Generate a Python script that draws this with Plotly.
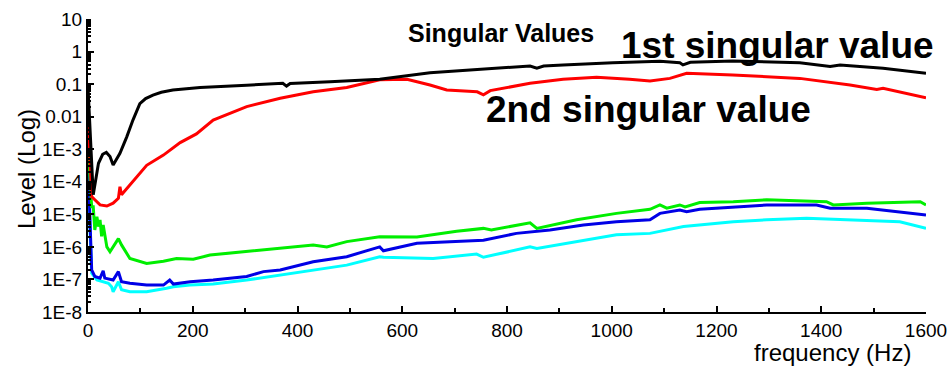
import plotly.graph_objects as go

# ---- data ----
f_first = [0, 3, 6, 10, 20, 28, 35, 42, 48, 61, 74, 86, 99, 110, 124, 140, 162, 185, 214, 303, 372, 379, 386,
           462, 557, 653, 748, 844, 857, 870, 907, 978, 1002, 1092, 1130, 1136, 1150, 1231, 1359, 1417, 1436,
           1518, 1600]
v_first = [0.08, 0.01, 8e-4, 4e-5, 3.7e-4, 7e-4, 8e-4, 6e-4, 3.3e-4, 7.5e-4, 2.4e-3, 8e-3, 0.025, 0.036, 0.046,
           0.056, 0.066, 0.073, 0.079, 0.093, 0.106, 0.087, 0.105, 0.119, 0.141, 0.224, 0.285, 0.36, 0.31, 0.36,
           0.387, 0.45, 0.455, 0.5, 0.455, 0.39, 0.47, 0.515, 0.455, 0.345, 0.387, 0.306, 0.217]

f_second = [0, 4, 7, 13, 23, 36, 48, 58, 61, 64, 80, 112, 144, 176, 207, 239, 303, 367, 430, 494, 557,
            577, 609, 653, 685, 743, 755, 768, 844, 907, 971, 1034, 1073, 1111, 1143, 1231, 1359, 1455,
            1506, 1518, 1600]
v_second = [0.01, 2e-4, 3.5e-5, 2.8e-5, 1.95e-5, 1.8e-5, 2.2e-5, 3.1e-5, 7e-5, 4e-5, 7.9e-5, 3.2e-4, 6.6e-4,
            1.6e-3, 2.95e-3, 7.9e-3, 0.0204, 0.0367, 0.058, 0.079, 0.135, 0.14, 0.141, 0.094, 0.066, 0.058,
            0.047, 0.063, 0.106, 0.141, 0.162, 0.141, 0.125, 0.15, 0.216, 0.19, 0.15, 0.094, 0.069, 0.075, 0.038]

f_third = [0, 4, 7, 10, 13, 17, 20, 23, 26, 29, 36, 42, 48, 58, 64, 80, 112, 144, 169, 201, 233, 303, 367,
           430, 456, 494, 557, 628, 704, 755, 770, 844, 857, 933, 1009, 1073, 1092, 1105, 1130, 1140, 1168,
           1232, 1296, 1410, 1423, 1487, 1589, 1600]
v_third = [1.35e-3, 1e-4, 1.7e-5, 1.7e-5, 3.3e-6, 8.5e-6, 4.2e-6, 6.8e-6, 2.1e-6, 4.7e-6, 1e-6, 7.1e-7, 1e-6,
           1.8e-6, 1.15e-6, 4.4e-7, 3.1e-7, 3.6e-7, 4.4e-7, 4.2e-7, 5.6e-7, 7.1e-7, 9.1e-7, 1.15e-6, 1e-6,
           1.45e-6, 2.05e-6, 2e-6, 3e-6, 3.7e-6, 3.3e-6, 5.5e-6, 3.7e-6, 6.8e-6, 1.07e-5, 1.43e-5, 1.94e-5,
           1.55e-5, 1.94e-5, 1.7e-5, 2.3e-5, 2.45e-5, 2.8e-5, 2.45e-5, 1.94e-5, 2.2e-5, 2.45e-5, 1.94e-5]

f_fourth = [0, 4, 7, 13, 23, 29, 32, 48, 58, 64, 80, 112, 144, 156, 163, 195, 239, 303, 335, 367, 430, 494,
            557, 564, 628, 691, 755, 818, 882, 946, 1009, 1073, 1092, 1130, 1143, 1168, 1232, 1296, 1391,
            1417, 1487, 1550, 1600]
v_fourth = [4.7e-4, 5e-6, 1.95e-7, 1.23e-7, 1.1e-7, 1.85e-7, 1.1e-7, 9.6e-8, 1.74e-7, 8.5e-8, 7.6e-8, 6.7e-8,
            6.7e-8, 9.6e-8, 7.2e-8, 8.5e-8, 9.6e-8, 1.23e-7, 1.74e-7, 1.95e-7, 3.5e-7, 5e-7, 1e-6, 7.6e-7,
            1.3e-6, 1.45e-6, 1.6e-6, 2.6e-6, 3.3e-6, 4.7e-6, 5.9e-6, 6.8e-6, 1.07e-5, 1.35e-5, 1.2e-5,
            1.43e-5, 1.7e-5, 1.94e-5, 1.94e-5, 1.55e-5, 1.55e-5, 1.2e-5, 9.5e-6]

f_fifth = [0, 4, 7, 17, 29, 39, 45, 48, 58, 64, 80, 112, 150, 163, 195, 239, 303, 367, 430, 494, 557, 564,
           659, 742, 755, 844, 857, 946, 1009, 1073, 1137, 1232, 1296, 1372, 1455, 1550, 1600]
v_fifth = [1.6e-4, 3e-6, 1.55e-7, 9.6e-8, 8.5e-8, 7.6e-8, 6e-8, 4.2e-8, 8.5e-8, 4.8e-8, 4.2e-8, 4.2e-8,
           5.4e-8, 6e-8, 6.7e-8, 7.2e-8, 9.6e-8, 1.38e-7, 1.95e-7, 2.75e-7, 5e-7, 4.8e-7, 4.4e-7, 6e-7,
           4.8e-7, 1e-6, 9e-7, 1.6e-6, 2.35e-6, 2.6e-6, 4.2e-6, 5.9e-6, 6.8e-6, 7.6e-6, 6.8e-6, 5.9e-6, 3.7e-6]

series = [
    ("1st", f_first, v_first, "#000000"),
    ("2nd", f_second, v_second, "#ff0000"),
    ("3rd", f_third, v_third, "#00ee00"),
    ("4th", f_fourth, v_fourth, "#0000e6"),
    ("5th", f_fifth, v_fifth, "#00ffff"),
]

y_tick_vals = [10, 1, 0.1, 0.01, 1e-3, 1e-4, 1e-5, 1e-6, 1e-7, 1e-8]
y_tick_text = ["10", "1", "0.1", "0.01", "1E-3", "1E-4", "1E-5", "1E-6", "1E-7", "1E-8"]
x_tick_vals = [0, 200, 400, 600, 800, 1000, 1200, 1400, 1600]

FONT = "Liberation Sans, Arial, sans-serif"

fig = go.Figure()
# draw in reverse so 1st is on top
for name, fx, vy, col in reversed(series):
    fig.add_trace(go.Scatter(x=fx, y=vy, mode="lines", name=name,
                             line=dict(color=col, width=3), showlegend=False))

minor_y = [m * d for d in y_tick_vals[1:] for m in range(2, 10)]

fig.update_layout(
    width=951, height=366,
    margin=dict(l=88, r=25, t=19, b=54),
    paper_bgcolor="white", plot_bgcolor="white",
    font=dict(family=FONT, color="black", size=19),
    xaxis=dict(range=[0, 1600], tickmode="array", tickvals=x_tick_vals, automargin=False,
               ticks="inside", ticklen=6, tickwidth=1.5, tickcolor="black",
               showline=True, linecolor="black", linewidth=2, showgrid=False, zeroline=False,
               tickfont=dict(size=19, family=FONT),
               minor=dict(dtick=100, ticks="inside", ticklen=4, tickcolor="black", showgrid=False)),
    yaxis=dict(type="log", range=[-8, 1], tickmode="array", tickvals=y_tick_vals, ticktext=y_tick_text,
               automargin=False,
               ticks="inside", ticklen=6, tickwidth=1.5, tickcolor="black",
               showline=True, linecolor="black", linewidth=2, showgrid=False, zeroline=False,
               tickfont=dict(size=19, family=FONT), ticklabelstandoff=0,
               minor=dict(tickmode="array", tickvals=minor_y, ticks="inside", ticklen=3,
                          tickcolor="black", showgrid=False)),
)

def px(xp):
    return (xp - 88) / 838.0

def py(yp):
    return (312 - yp) / 293.0

anns = [
    dict(text="<b>Singular Values</b>", x=px(501), y=py(33), size=25),
    dict(text="<b>1st singular value</b>", x=px(777), y=py(45), size=37),
    dict(text="<b>2nd singular value</b>", x=px(648), y=py(110), size=37),
    dict(text="frequency (Hz)", x=px(832), y=py(352), size=24),
]
for a in anns:
    fig.add_annotation(text=a["text"], x=a["x"], y=a["y"], xref="paper", yref="paper",
                       xanchor="center", yanchor="middle", showarrow=False,
                       font=dict(family=FONT, size=a["size"], color="black"))
fig.add_annotation(text="Level (Log)", x=px(26), y=py(169), xref="paper", yref="paper",
                   xanchor="center", yanchor="middle", showarrow=False, textangle=-90,
                   font=dict(family=FONT, size=24, color="black"))

fig.write_html("out.html")
